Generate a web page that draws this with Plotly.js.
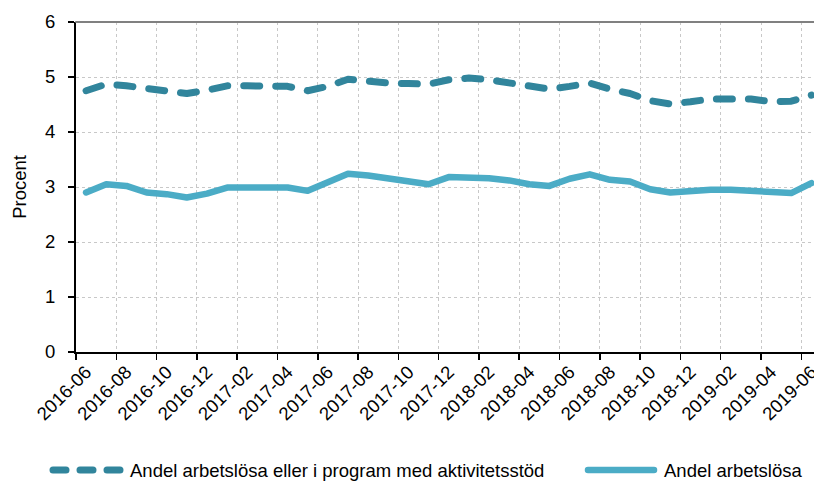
<!DOCTYPE html>
<html>
<head>
<meta charset="utf-8">
<script src="https://cdn.plot.ly/plotly-3.0.1.min.js"></script>
<style>
  body { margin: 0; padding: 0; background: #fff; }
  #chart { width: 814px; height: 481px; }
  .scatterlayer path.js-line { stroke-linecap: round; stroke-linejoin: round; }
  .shapelayer path { stroke-linecap: round; }
</style>
</head>
<body>
<div id="chart"></div>
<script>
const months = [
  "2016-06","2016-07","2016-08","2016-09","2016-10","2016-11","2016-12",
  "2017-01","2017-02","2017-03","2017-04","2017-05","2017-06","2017-07",
  "2017-08","2017-09","2017-10","2017-11","2017-12","2018-01","2018-02",
  "2018-03","2018-04","2018-05","2018-06","2018-07","2018-08","2018-09",
  "2018-10","2018-11","2018-12","2019-01","2019-02","2019-03","2019-04",
  "2019-05","2019-06"
];
const seriesNames = [
  "Andel arbetslösa eller i program med aktivitetsstöd",
  "Andel arbetslösa"
];
const programShare = [
  4.75, 4.87, 4.84, 4.79, 4.74, 4.70, 4.76, 4.84, 4.84, 4.84,
  4.83, 4.75, 4.83, 4.96, 4.92, 4.89, 4.88, 4.87, 4.95, 4.98,
  4.95, 4.89, 4.84, 4.78, 4.83, 4.89, 4.78, 4.70, 4.57, 4.51,
  4.55, 4.60, 4.60, 4.60, 4.55, 4.56, 4.67
];
const unemployedShare = [
  2.90, 3.05, 3.02, 2.90, 2.87, 2.81, 2.88, 2.99, 2.99, 2.99,
  2.99, 2.93, 3.08, 3.24, 3.21, 3.15, 3.10, 3.05, 3.18, 3.18,
  3.16, 3.12, 3.05, 3.02, 3.15, 3.23, 3.13, 3.10, 2.96, 2.90,
  2.93, 2.95, 2.95, 2.93, 2.89, 2.89, 3.07
];

const darkTeal = "#31859C";
const lightBlue = "#4BACC6";
const FONT = "Liberation Sans, Arial, sans-serif";
const FS = 18.5;

const W = 814, H = 481;
const M = {l: 76, r: 0, t: 22, b: 129};
const pw = W - M.l - M.r, ph = H - M.t - M.b;
const px = x => (x - M.l) / pw;
const py = y => (H - M.b - y) / ph;

const traces = [
  {
    x: months, y: programShare, name: seriesNames[0],
    type: "scatter", mode: "lines",
    line: {color: darkTeal, width: 7, dash: "16px,16px"},
    hoverinfo: "x+y"
  },
  {
    x: months, y: unemployedShare, name: seriesNames[1],
    type: "scatter", mode: "lines",
    line: {color: lightBlue, width: 6.5},
    hoverinfo: "x+y"
  }
];

const legY = py(470);
const layout = {
  width: W, height: H,
  margin: M,
  paper_bgcolor: "#fff", plot_bgcolor: "#fff",
  font: {family: FONT, size: FS, color: "#000"},
  showlegend: false,
  xaxis: {
    type: "category",
    range: [-0.5, 36.13],
    tickson: "boundaries",
    dtick: 2,
    tickangle: -45,
    ticks: "outside", ticklen: 6, tickcolor: "#000", tickwidth: 1.5,
    showgrid: true, gridcolor: "#c8c8c8", griddash: "dot", gridwidth: 1,
    showline: true, linecolor: "#000", linewidth: 2,
    tickfont: {family: FONT, size: FS, color: "#000"},
    zeroline: false, fixedrange: true
  },
  yaxis: {
    range: [0, 6], dtick: 1, tick0: 0,
    ticks: "outside", ticklen: 6, tickcolor: "#000", tickwidth: 1.5,
    ticklabelstandoff: 9,
    showgrid: true, gridcolor: "#c8c8c8", griddash: "dot", gridwidth: 1,
    showline: true, linecolor: "#000", linewidth: 2,
    zeroline: false,
    tickfont: {family: FONT, size: FS, color: "#000"},
    title: {text: "Procent", font: {family: FONT, size: FS, color: "#000"}, standoff: 14},
    fixedrange: true
  },
  shapes: [
    {type: "line", xref: "paper", yref: "paper", x0: 0, x1: 1, y0: 1, y1: 1,
     line: {color: "#808080", width: 2}},
    {type: "line", xref: "paper", yref: "paper", x0: px(53), x1: px(120), y0: legY, y1: legY,
     line: {color: darkTeal, width: 7, dash: "13px,14px"}},
    {type: "line", xref: "paper", yref: "paper", x0: px(588), x1: px(654), y0: legY, y1: legY,
     line: {color: lightBlue, width: 6.5}}
  ],
  annotations: [
    {xref: "paper", yref: "paper", x: px(128), y: legY, xanchor: "left", yanchor: "middle",
     text: seriesNames[0], showarrow: false, font: {family: FONT, size: FS, color: "#000"}},
    {xref: "paper", yref: "paper", x: px(662), y: legY, xanchor: "left", yanchor: "middle",
     text: seriesNames[1], showarrow: false, font: {family: FONT, size: FS, color: "#000"}}
  ]
};

Plotly.newPlot("chart", traces, layout, {displayModeBar: false, staticPlot: true});
</script>
</body>
</html>
